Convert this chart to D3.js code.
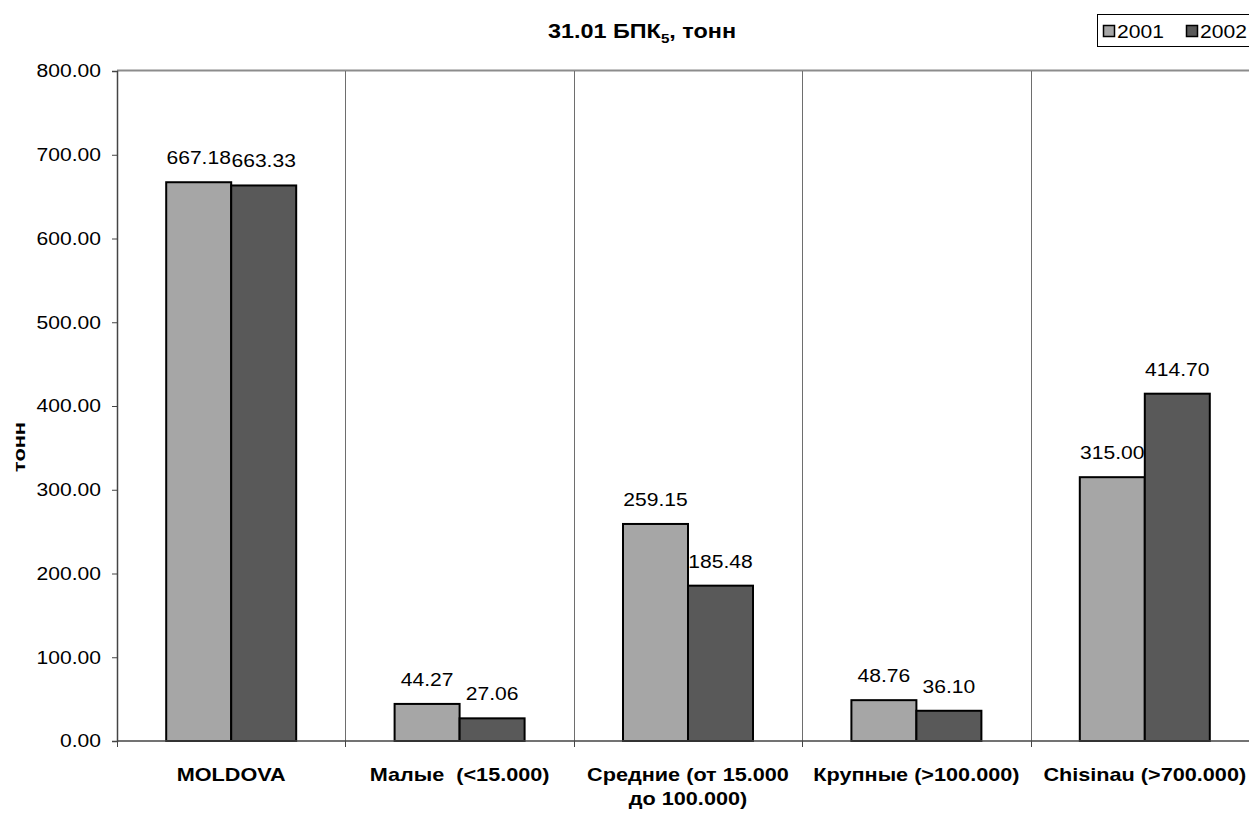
<!DOCTYPE html>
<html>
<head>
<meta charset="utf-8">
<script src="https://cdn.jsdelivr.net/npm/d3@7"></script>
<style>
  html, body { margin: 0; padding: 0; background: #fff; overflow: hidden; }
  svg { display: block; font-family: "Liberation Sans", Arial, sans-serif; }
  text.cat tspan { white-space: pre; }
</style>
</head>
<body>
<svg id="chart" width="1249" height="813"></svg>
<script>
// BOD5 discharge by settlement group, tonnes
const categories = [
  ["MOLDOVA"],
  ["Малые  (<15.000)"],
  ["Средние (от 15.000", "до 100.000)"],
  ["Крупные (>100.000)"],
  ["Chisinau (>700.000)"]
];
const seriesNames = ["2001", "2002"];
const values2001 = [667.18, 44.27, 259.15, 48.76, 315.00];
const values2002 = [663.33, 27.06, 185.48, 36.10, 414.70];
const yTicks = [0, 100, 200, 300, 400, 500, 600, 700, 800];
const colors = ["#a6a6a6", "#595959"];

// the fonts are drawn slightly wide
const WIDEN = 1.17;

const svg = d3.select("#chart");
const plot = { left: 117, top: 71, right: 1259, bottom: 741 };

const x0 = d3.scaleBand()
  .domain(d3.range(categories.length))
  .range([plot.left, plot.right])
  .paddingInner(0)
  .paddingOuter(0);
const x1 = d3.scaleBand()
  .domain(seriesNames)
  .range([0, x0.bandwidth()])
  .paddingInner(0)
  .paddingOuter(0.757);
const y = d3.scaleLinear().domain([0, 800]).range([plot.bottom, plot.top]);

// top border of plot area
svg.append("line")
  .attr("x1", plot.left).attr("x2", plot.right)
  .attr("y1", plot.top - 0.5).attr("y2", plot.top - 0.5)
  .attr("stroke", "#8c8c8c").attr("stroke-width", 2);

// vertical separators between categories
svg.append("g").selectAll("line")
  .data(d3.range(1, categories.length))
  .join("line")
  .attr("x1", d => Math.round(x0(d)) + 0.5)
  .attr("x2", d => Math.round(x0(d)) + 0.5)
  .attr("y1", plot.top).attr("y2", plot.bottom)
  .attr("stroke", "#6e6e6e").attr("stroke-width", 1);

// bars
const series = [values2001, values2002];
const groups = svg.append("g").selectAll("g")
  .data(categories.map((c, i) => i))
  .join("g")
  .attr("transform", i => `translate(${x0(i)},0)`);

groups.selectAll("rect")
  .data(i => seriesNames.map((s, k) => ({ s, k, v: series[k][i] })))
  .join("rect")
  .attr("x", d => x1(d.s))
  .attr("width", x1.bandwidth())
  .attr("y", d => y(d.v))
  .attr("height", d => y(0) - y(d.v))
  .attr("fill", d => colors[d.k])
  .attr("stroke", "#000")
  .attr("stroke-width", 2);

groups.selectAll("text.val")
  .data(i => seriesNames.map((s, k) => ({ s, k, v: series[k][i] })))
  .join("text")
  .attr("class", "val wide")
  .attr("x", d => x1(d.s) + x1.bandwidth() / 2)
  .attr("y", d => y(d.v) - 18)
  .attr("text-anchor", "middle")
  .attr("font-size", 18)
  .attr("fill", "#000")
  .text(d => d.v.toFixed(2));

// y axis
const yAxis = d3.axisLeft(y)
  .tickValues(yTicks)
  .tickSize(5)
  .tickPadding(11)
  .tickFormat(d => d.toFixed(2));
const gy = svg.append("g")
  .attr("transform", `translate(${plot.left},0)`)
  .call(yAxis);
gy.attr("font-size", null).attr("font-family", null);
gy.select(".domain").attr("stroke", "#444").attr("stroke-width", 1.5);
gy.selectAll(".tick line").attr("stroke", "#444");
gy.selectAll(".tick text")
  .attr("class", "wide")
  .attr("font-size", 18)
  .attr("fill", "#000");

// x axis
const gx = svg.append("g")
  .attr("transform", `translate(0,${plot.bottom})`);
gx.append("line")
  .attr("x1", plot.left).attr("x2", plot.right)
  .attr("stroke", "#444").attr("stroke-width", 1.5);
gx.selectAll("line.tick")
  .data(d3.range(0, categories.length + 1))
  .join("line")
  .attr("class", "tick")
  .attr("x1", d => Math.round(plot.left + d * x0.bandwidth()) + 0.5)
  .attr("x2", d => Math.round(plot.left + d * x0.bandwidth()) + 0.5)
  .attr("y1", 0).attr("y2", 6)
  .attr("stroke", "#444");
gx.selectAll("text.cat")
  .data(categories.map((c, i) => ({ c, i })))
  .join("text")
  .attr("class", "cat")
  .attr("y", 40)
  .attr("text-anchor", "middle")
  .attr("font-size", 18.5)
  .attr("font-weight", "bold")
  .attr("fill", "#000")
  .each(function (d) {
    d3.select(this).selectAll("tspan")
      .data(d.c)
      .join("tspan")
      .attr("class", "wide")
      .attr("x", x0(d.i) + x0.bandwidth() / 2)
      .attr("dy", (t, j) => j === 0 ? 0 : 23.5)
      .text(t => t);
  });

// y axis title
svg.append("text")
  .attr("transform", "translate(25,447) rotate(-90)")
  .attr("text-anchor", "middle")
  .attr("font-size", 17)
  .attr("font-weight", "bold")
  .attr("textLength", 50)
  .attr("lengthAdjust", "spacingAndGlyphs")
  .text("тонн");

// chart title
const title = svg.append("text")
  .attr("class", "wide")
  .attr("x", 642)
  .attr("y", 38)
  .attr("text-anchor", "middle")
  .attr("font-size", 20)
  .attr("font-weight", "bold");
title.append("tspan").text("31.01 БПК");
title.append("tspan").attr("font-size", 13).attr("dy", 5).text("5");
title.append("tspan").attr("dy", -5).text(", тонн");

// legend
const legend = svg.append("g").attr("transform", "translate(1097,14)");
legend.append("rect")
  .attr("x", 0.5).attr("y", 0.5)
  .attr("width", 170).attr("height", 32)
  .attr("fill", "#fff").attr("stroke", "#000");
const items = legend.selectAll("g")
  .data(seriesNames.map((s, k) => ({ s, k })))
  .join("g")
  .attr("transform", d => `translate(${6 + d.k * 83},0)`);
items.append("rect")
  .attr("x", 0.5).attr("y", 11.5)
  .attr("width", 11).attr("height", 11)
  .attr("fill", d => colors[d.k])
  .attr("stroke", "#000").attr("stroke-width", 1.5);
items.append("text")
  .attr("class", "wide")
  .attr("x", 14).attr("y", 23.5)
  .attr("font-size", 18)
  .text(d => d.s);

// widen glyphs horizontally
svg.selectAll(".wide").each(function () {
  const len = this.getComputedTextLength();
  d3.select(this)
    .attr("textLength", len * WIDEN)
    .attr("lengthAdjust", "spacingAndGlyphs");
});
</script>
</body>
</html>
